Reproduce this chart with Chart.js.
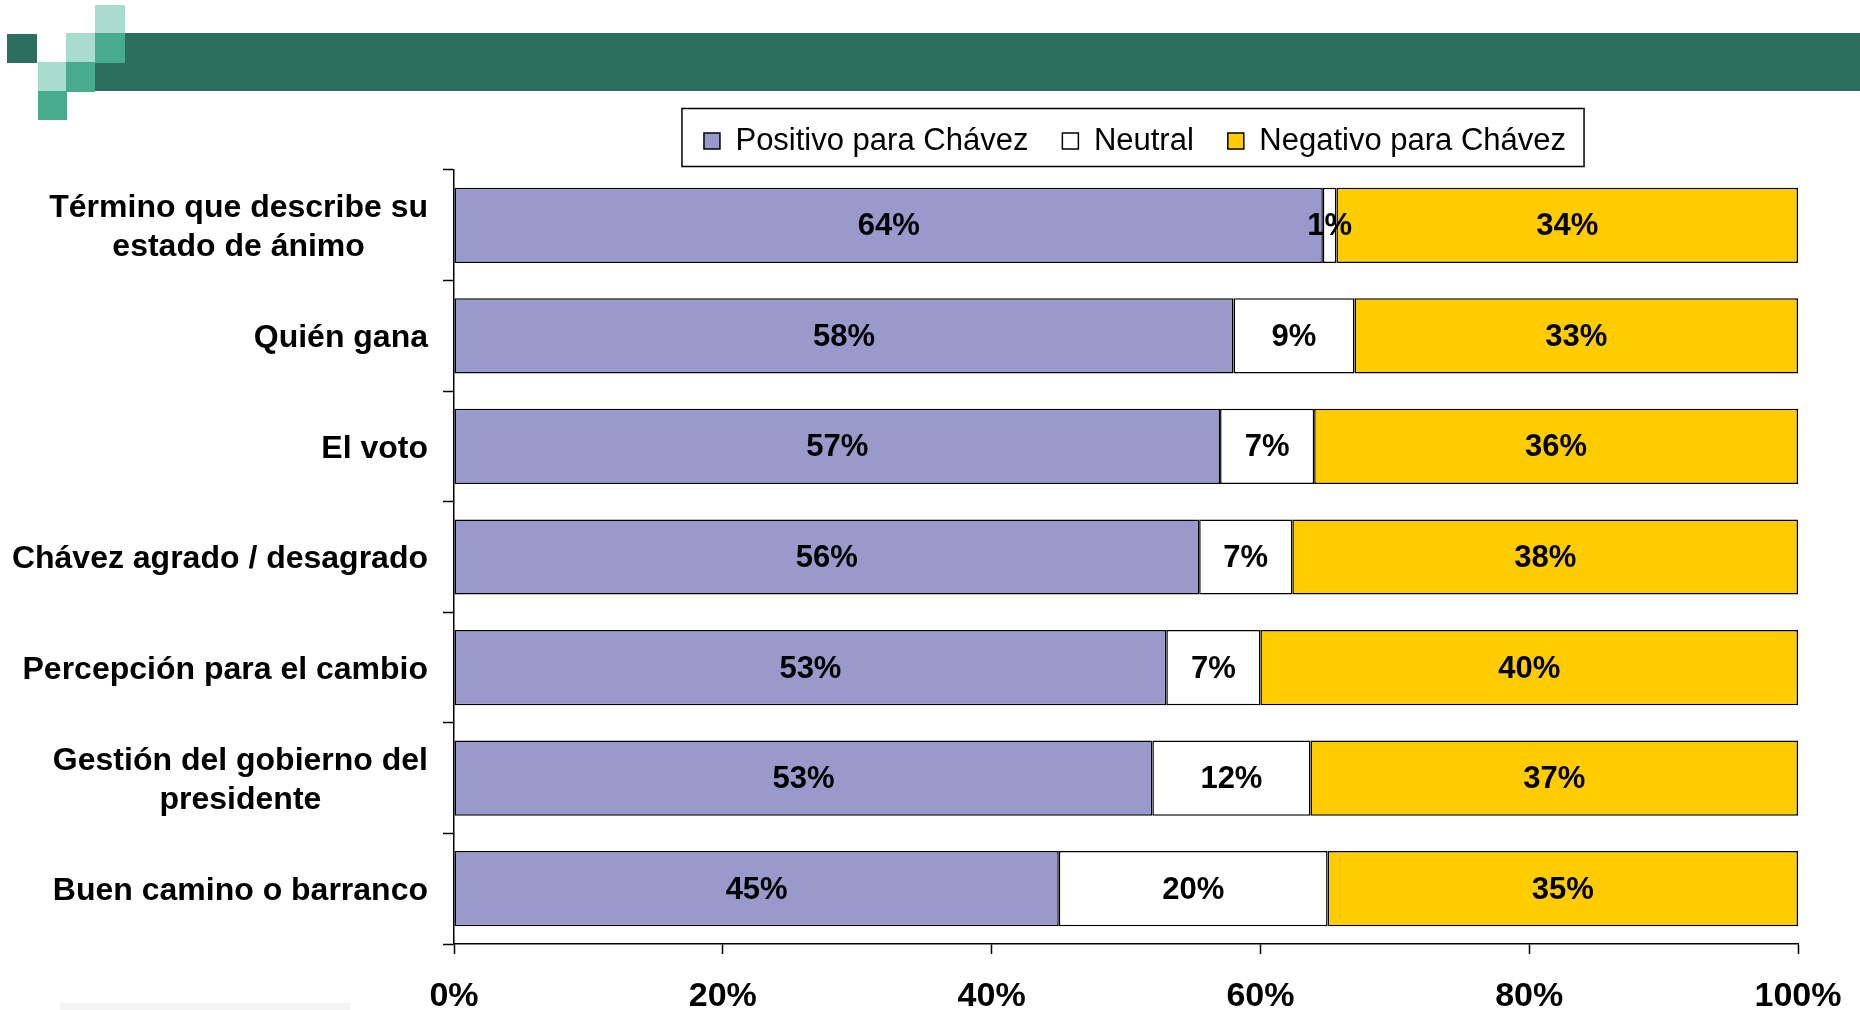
<!DOCTYPE html>
<html><head><meta charset="utf-8">
<script src="https://cdn.jsdelivr.net/npm/chart.js@4.4.1/dist/chart.umd.min.js"></script>
<style>
html,body{margin:0;padding:0;background:#fff;overflow:hidden;width:1860px;height:1010px;}
.d{position:absolute}
#wrap{position:absolute;left:0;top:0;width:1860px;height:1020px}
</style></head><body>
<div class="d" style="left:95px;top:33px;width:1765px;height:58px;background:#2D6F5E"></div>
<div class="d" style="left:7px;top:34px;width:30px;height:29px;background:#2D6F5E"></div>
<div class="d" style="left:95px;top:5px;width:30px;height:28px;background:#A8DCCC"></div>
<div class="d" style="left:95px;top:33px;width:30px;height:30px;background:#48AB8C"></div>
<div class="d" style="left:66px;top:33px;width:29px;height:29px;background:#A8DCCC"></div>
<div class="d" style="left:66px;top:62px;width:29px;height:30px;background:#48AB8C"></div>
<div class="d" style="left:38px;top:62px;width:28px;height:29px;background:#A8DCCC"></div>
<div class="d" style="left:38px;top:91px;width:29px;height:29px;background:#48AB8C"></div>
<div class="d" style="left:60px;top:1003px;width:290px;height:7px;background:#f4f4f4"></div>
<div id="wrap"><canvas id="c" width="1860" height="1020"></canvas></div>
<script>
// ---- data ----
const categories = [
  ['Término que describe su', 'estado de ánimo'],
  'Quién gana',
  'El voto',
  'Chávez agrado / desagrado',
  'Percepción para el cambio',
  ['Gestión del gobierno del', 'presidente'],
  'Buen camino o barranco'
];
const seriesNames = ['Positivo para Chávez', 'Neutral', 'Negativo para Chávez'];
const positivo = [64, 58, 57, 56, 53, 53, 45];
const neutral  = [1, 9, 7, 7, 7, 12, 20];
const negativo = [34, 33, 36, 38, 40, 37, 35];
const xTicks = [0, 20, 40, 60, 80, 100];

const FONT = '"Liberation Sans", Arial, sans-serif';
const colors = ['#9999CC', '#FFFFFF', '#FFCC00'];
const raw = [positivo, neutral, negativo];
const totals = positivo.map((v, i) => v + neutral[i] + negativo[i]);
// 100% stacked: each segment is its share of the row total
const share = arr => arr.map((v, i) => v / totals[i] * 100);

const legendPlugin = {
  id: 'legendPlace',
  afterLayout(chart) {
    const lg = chart.legend;
    if (!lg || !lg.lineWidths) return;
    const pad = lg.options.labels.padding;
    const lw = lg.lineWidths[0] - pad;
    const cx = 1135;
    const h = lg.height;
    lg.left = cx - lw / 2 - pad;
    lg.right = lg.left + lw + 2 * pad;
    lg.width = lg.right - lg.left;
    lg.top = 141 - pad - 15.5;
    lg.bottom = lg.top + h;
  },
  afterDraw(chart) {
    const hb = chart.legend.legendHitBoxes;
    if (!hb || !hb.length) return;
    const ctx = chart.ctx;
    const last = hb[hb.length - 1];
    const x0 = hb[0].left - 22, x1 = last.left + last.width + 18;
    const y0 = hb[0].top - 17, y1 = hb[0].top + hb[0].height + 10;
    ctx.save();
    ctx.strokeStyle = '#000';
    ctx.lineWidth = 1.5;
    ctx.strokeRect(x0, y0, x1 - x0, y1 - y0);
    ctx.restore();
  }
};

const labelPlugin = {
  id: 'labels',
  afterDatasetsDraw(chart) {
    const ctx = chart.ctx;
    ctx.save();
    ctx.font = 'bold 31px ' + FONT;
    ctx.fillStyle = '#000';
    ctx.textAlign = 'center';
    ctx.textBaseline = 'middle';
    chart.data.datasets.forEach((ds, di) => {
      const meta = chart.getDatasetMeta(di);
      meta.data.forEach((bar, i) => {
        const p = bar.getProps(['x', 'y', 'base'], true);
        ctx.fillText(ds.raw[i] + '%', (p.x + p.base) / 2, p.y + 1.5);
      });
    });
    ctx.restore();
  },
  afterDraw(chart) {
    const ys = chart.scales.y;
    const ctx = chart.ctx;
    ctx.save();
    ctx.font = 'bold 32px ' + FONT;
    ctx.fillStyle = '#000';
    ctx.textAlign = 'center';
    ctx.textBaseline = 'middle';
    const lh = 39;
    chart.data.labels.forEach((lab, i) => {
      const lines = Array.isArray(lab) ? lab : [lab];
      const w = Math.max(...lines.map(l => ctx.measureText(l).width));
      const cx = ys.right - 11 - 15 - w / 2;
      const yc = ys.getPixelForValue(i) + 2.5;
      lines.forEach((l, j) => ctx.fillText(l, cx, yc + (j - (lines.length - 1) / 2) * lh));
    });
    ctx.restore();
  }
};

new Chart(document.getElementById('c'), {
  type: 'bar',
  data: {
    labels: categories,
    datasets: raw.map((arr, k) => ({
      label: seriesNames[k],
      data: share(arr),
      raw: arr,
      backgroundColor: colors[k],
      borderColor: '#000',
      borderWidth: 1.5,
      borderSkipped: false,
      barPercentage: 0.68,
      categoryPercentage: 1
    }))
  },
  options: {
    indexAxis: 'y',
    responsive: false,
    maintainAspectRatio: false,
    animation: false,
    layout: { padding: { top: 95, right: 62, left: 0, bottom: 0 } },
    plugins: {
      legend: {
        position: 'top',
        labels: { font: { family: FONT, size: 31 }, color: '#000', boxWidth: 16, boxHeight: 16, padding: 34 }
      },
      tooltip: { enabled: false }
    },
    scales: {
      x: {
        type: 'linear', stacked: true, min: 0, max: 100,
        afterBuildTicks: s => { s.ticks = xTicks.map(v => ({ value: v })); },
        ticks: { callback: v => v + '%', font: { family: FONT, size: 34, weight: 'bold', lineHeight: 1.45 }, color: '#000', padding: 18, maxRotation: 0, autoSkip: false },
        grid: { drawOnChartArea: false, tickLength: 10, tickColor: '#000', tickWidth: 1.5 },
        border: { color: '#000', width: 1.5 },
        afterFit: s => { s.height = 76; }
      },
      y: {
        type: 'category', stacked: true,
        ticks: { display: false },
        grid: { offset: true, drawOnChartArea: false, tickLength: 11, tickColor: '#000', tickWidth: 1.5 },
        border: { color: '#000', width: 1.5 },
        afterFit: s => { s.width = 454; }
      }
    }
  },
  plugins: [legendPlugin, labelPlugin]
});
</script>
</body></html>
